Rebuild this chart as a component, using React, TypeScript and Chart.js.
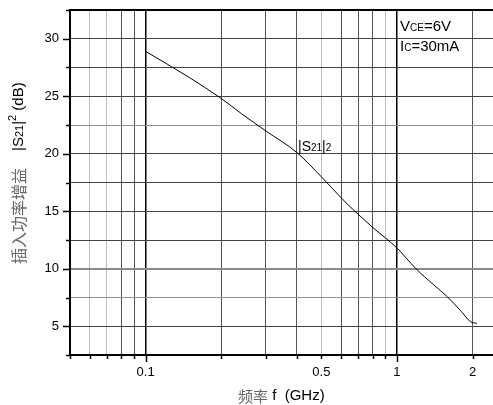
import React, { useEffect, useRef } from "react";
import { Chart, registerables } from "chart.js";

Chart.register(...registerables);

// Frequency (GHz) and insertion power gain |S21|^2 (dB)
const freqGHz = [0.1, 0.15, 0.2, 0.24, 0.3, 0.4, 0.5, 0.61, 0.68, 0.81, 1.0, 1.19, 1.4, 1.58, 1.8, 1.96, 2.08];
const gainDB = [28.9, 26.6, 24.8, 23.5, 22.0, 20.1, 18.0, 16.0, 15.0, 13.5, 11.8, 10.0, 8.6, 7.6, 6.3, 5.4, 5.25];

const xTickValues = [0.05, 0.06, 0.07, 0.08, 0.09, 0.1, 0.2, 0.3, 0.4, 0.5, 0.6, 0.7, 0.8, 0.9, 1, 2];
const xTickLabels = ["", "", "", "", "", "0.1", "", "", "", "0.5", "", "", "", "", "1", "2"];
const yTickValues = [2.5, 5, 7.5, 10, 12.5, 15, 17.5, 20, 22.5, 25, 27.5, 30, 32.5];
const yTickLabels = ["", "5", "", "10", "", "15", "", "20", "", "25", "", "30", ""];

const X_MIN = 0.05;
const X_MAX = 2.41;
const Y_MIN = 2.5;
const Y_MAX = 32.5;

const SANS = '"Liberation Sans", Arial, sans-serif';
const CJK = '"Noto Sans CJK SC", sans-serif';

type Seg = { t: string; font: string; color?: string; dy?: number; w?: number };

function drawSegs(ctx: CanvasRenderingContext2D, segs: Seg[], x: number, y: number) {
  let cx = x;
  for (const s of segs) {
    ctx.font = s.font;
    ctx.fillStyle = s.color || "#000";
    if (s.t) ctx.fillText(s.t, cx, y + (s.dy || 0));
    cx += s.w !== undefined ? s.w : ctx.measureText(s.t).width;
  }
}

const decorPlugin = {
  id: "decor",
  afterDraw(chart: any) {
    const ctx: CanvasRenderingContext2D = chart.ctx;
    const a = chart.chartArea;
    const xs = chart.scales.x;
    const ys = chart.scales.y;
    ctx.save();
    // tick marks
    ctx.strokeStyle = "#000";
    ctx.lineWidth = 1.5;
    for (const v of yTickValues) {
      const py = Math.round(ys.getPixelForValue(v)) + 0.5;
      const len = v % 5 === 0 ? 7 : 4;
      ctx.beginPath();
      ctx.moveTo(a.left - len, py);
      ctx.lineTo(a.left, py);
      ctx.stroke();
    }
    for (const v of xTickValues) {
      const px = Math.round(xs.getPixelForValue(v)) + 0.5;
      const len = v === 0.1 || v === 1 ? 7 : 4;
      ctx.beginPath();
      ctx.moveTo(px, a.bottom);
      ctx.lineTo(px, a.bottom + len);
      ctx.stroke();
    }
    // frame
    ctx.lineWidth = 2;
    ctx.beginPath();
    ctx.moveTo(a.right + 2, a.top);
    ctx.lineTo(a.left, a.top);
    ctx.lineTo(a.left, a.bottom);
    ctx.lineTo(a.right + 2, a.bottom);
    ctx.stroke();

    // annotations
    ctx.textBaseline = "alphabetic";
    ctx.textAlign = "left";
    const big = `15px ${SANS}`;
    const small = `10px ${SANS}`;
    drawSegs(ctx, [
      { t: "V", font: big },
      { t: "CE", font: small },
      { t: "=6V", font: big },
    ], 400, 31);
    drawSegs(ctx, [
      { t: "I", font: big },
      { t: "C", font: small },
      { t: "=30mA", font: big },
    ], 400, 51);
    drawSegs(ctx, [
      { t: "|S", font: `14px ${SANS}` },
      { t: "21", font: small },
      { t: "|", font: `14px ${SANS}` },
      { t: "2", font: small },
    ], 298, 151);

    // x title
    ctx.textBaseline = "middle";
    drawSegs(ctx, [
      { t: "频率", font: `15px ${CJK}`, color: "#666" },
      { t: " f  ", font: `15px ${SANS}` },
      { t: "(GHz)", font: `15px ${SANS}` },
    ], 238, 396);

    // y title (rotated)
    ctx.save();
    ctx.translate(19, 264);
    ctx.rotate(-Math.PI / 2);
    drawSegs(ctx, [
      { t: "插入功率增益", font: `16px ${CJK}`, color: "#666" },
      { t: "", font: `15px ${SANS}`, w: 17 },
      { t: "|S", font: `15px ${SANS}` },
      { t: "21", font: `11px ${SANS}`, dy: 1 },
      { t: "|", font: `15px ${SANS}` },
      { t: "2", font: `11px ${SANS}`, dy: -6 },
      { t: " (dB)", font: `15px ${SANS}` },
    ], 0, 0);
    ctx.restore();
    ctx.restore();
  },
};

function xGridColor(v: number): string {
  if (v === 0.1 || v === 1) return "#000";
  if (v === 0.06 || v === 0.07 || v === 0.5 || v === 0.9) return "#bdbdbd";
  return "#555";
}

function yGridColor(v: number): string {
  if (v === 10) return "#8a8a8a";
  if (v === 7.5 || v === 22.5) return "#8f8f8f";
  return "#444";
}

export default function App() {
  const ref = useRef<HTMLCanvasElement | null>(null);
  useEffect(() => {
    if (!ref.current) return;
    const chart = new Chart(ref.current, {
      type: "line",
      data: {
        datasets: [
          {
            data: freqGHz.map((f, i) => ({ x: f, y: gainDB[i] })),
            borderColor: "#000",
            borderWidth: 1,
            pointRadius: 0,
            cubicInterpolationMode: "monotone",
            fill: false,
          },
        ],
      },
      options: {
        responsive: false,
        animation: false,
        devicePixelRatio: 1,
        layout: { padding: { top: 10, right: 0, left: 0, bottom: 0 } },
        plugins: {
          legend: { display: false },
          tooltip: { enabled: false },
          title: { display: false },
        },
        scales: {
          x: {
            type: "logarithmic",
            min: X_MIN,
            max: X_MAX,
            afterBuildTicks: (s: any) => {
              s.ticks = xTickValues.map((v) => ({ value: v }));
            },
            afterFit: (s: any) => {
              s.height = 50;
              s.paddingLeft = 0;
              s.paddingRight = 0;
            },
            ticks: {
              autoSkip: false,
              maxRotation: 0,
              padding: 10,
              color: "#000",
              font: { family: SANS, size: 13 },
              callback: (_v: any, i: number) => xTickLabels[i] ?? "",
            },
            grid: {
              drawTicks: false,
              color: (c: any) => (c.tick && c.tick.value > X_MIN ? xGridColor(c.tick.value) : "rgba(0,0,0,0)"),
              lineWidth: (c: any) => (c.tick && (c.tick.value === 0.1 || c.tick.value === 1) ? 1.5 : 1),
            },
            border: { display: false },
          },
          y: {
            type: "linear",
            min: Y_MIN,
            max: Y_MAX,
            afterBuildTicks: (s: any) => {
              s.ticks = yTickValues.map((v) => ({ value: v }));
            },
            afterFit: (s: any) => {
              s.width = 70;
              s.paddingTop = 0;
              s.paddingBottom = 0;
            },
            ticks: {
              autoSkip: false,
              padding: 11,
              color: "#000",
              font: { family: SANS, size: 13 },
              callback: (_v: any, i: number) => yTickLabels[i] ?? "",
            },
            grid: {
              drawTicks: false,
              color: (c: any) =>
                c.tick && c.tick.value > Y_MIN && c.tick.value < Y_MAX ? yGridColor(c.tick.value) : "rgba(0,0,0,0)",
              lineWidth: (c: any) => (c.tick && c.tick.value === 10 ? 2 : 1),
            },
            border: { display: false },
          },
        },
      },
      plugins: [decorPlugin],
    } as any);
    return () => chart.destroy();
  }, []);
  return (
    <div style={{ position: "absolute", left: 0, top: 0, width: 493, height: 405, background: "#fff" }}>
      <canvas ref={ref} width={493} height={405} />
    </div>
  );
}
